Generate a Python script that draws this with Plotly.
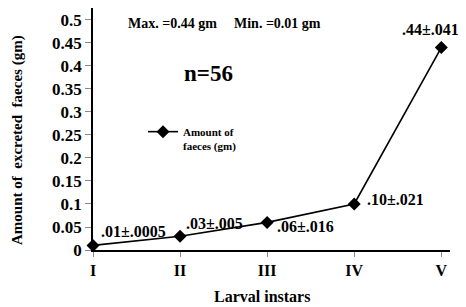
import plotly.graph_objects as go

instars = ["I", "II", "III", "IV", "V"]
amount = [0.01, 0.03, 0.06, 0.10, 0.44]
labels = [".01±.0005", ".03±.005", ".06±.016", ".10±.021", ".44±.041"]
y_ticks = [0, 0.05, 0.1, 0.15, 0.2, 0.25, 0.3, 0.35, 0.4, 0.45, 0.5]

FONT = "Liberation Serif"
OFF = 8  # page body margin
W, H = 466 - OFF, 307 - OFF
L, R, T, B = 93 - OFF, 16, 0, 57
PW, PH = W - L - R, H - T - B


def px(x):
    return (x - OFF - L) / PW


def py(y):
    return (H - B - (y - OFF)) / PH


fig = go.Figure()
fig.add_trace(go.Scatter(
    x=list(range(len(instars))), y=amount, mode="lines+markers",
    name="<b>Amount of<br>faeces (gm)</b>",
    line=dict(color="black", width=1.6),
    marker=dict(symbol="diamond", size=10, color="black"),
    cliponaxis=False,
))

shifts = [(6, 14, "left"), (4, 13, "left"), (8, -4, "left"), (11, 4, "left"), (20, 18, "right")]
for i, (lab, (dx, dy, anc)) in enumerate(zip(labels, shifts)):
    fig.add_annotation(x=i, y=amount[i], xref="x", yref="y", text=f"<b>{lab}</b>",
                       showarrow=False, xanchor=anc, yanchor="middle",
                       xshift=dx, yshift=dy,
                       font=dict(family=FONT, size=16, color="black"))

fig.add_annotation(x=px(126), y=py(23), xref="paper", yref="paper",
                   text="<b>Max. =0.44 gm</b>", showarrow=False, xanchor="left",
                   yanchor="middle", font=dict(family=FONT, size=14, color="black"))
fig.add_annotation(x=px(232), y=py(23), xref="paper", yref="paper",
                   text="<b>Min. =0.01 gm</b>", showarrow=False, xanchor="left",
                   yanchor="middle", font=dict(family=FONT, size=14, color="black"))
fig.add_annotation(x=px(208), y=py(73), xref="paper", yref="paper",
                   text="<b>n=56</b>", showarrow=False, xanchor="center",
                   yanchor="middle", font=dict(family=FONT, size=23, color="black"))
fig.add_annotation(x=px(262), y=py(296), xref="paper", yref="paper",
                   text="<b>Larval instars</b>", showarrow=False, xanchor="center",
                   yanchor="middle", font=dict(family=FONT, size=16, color="black"))
fig.add_annotation(x=px(17), y=py(140), xref="paper", yref="paper",
                   text="<b>Amount of  excreted  faeces (gm)</b>", showarrow=False,
                   xanchor="center", yanchor="middle", textangle=-90,
                   font=dict(family=FONT, size=15, color="black"))

fig.update_layout(
    width=W, height=H,
    margin=dict(l=L, r=R, t=T, b=B),
    paper_bgcolor="white", plot_bgcolor="white",
    font=dict(family=FONT, color="black"),
    showlegend=True,
    legend=dict(x=px(143), y=py(118), xanchor="left", yanchor="top",
                bgcolor="rgba(0,0,0,0)", valign="top",
                font=dict(family=FONT, size=11, color="black"),
                itemwidth=30, tracegroupgap=0),
    xaxis=dict(
        range=[0, 4.1], tickmode="array", tickvals=list(range(len(instars))),
        ticktext=[f"<b>{t}</b>" for t in instars],
        showline=True, linecolor="black", linewidth=1.5,
        ticks="outside", ticklen=5, tickcolor="#888", showgrid=False, zeroline=False,
        tickfont=dict(family=FONT, size=16, color="black"),
    ),
    yaxis=dict(
        range=[0, 0.526], tickmode="array", tickvals=y_ticks,
        ticktext=[f"<b>{v:g}</b>" for v in y_ticks],
        showline=True, linecolor="black", linewidth=1.5,
        ticks="outside", ticklen=6, tickcolor="#888", showgrid=False, zeroline=False,
        tickfont=dict(family=FONT, size=17, color="black"),
    ),
)

fig.write_html("out.html")
